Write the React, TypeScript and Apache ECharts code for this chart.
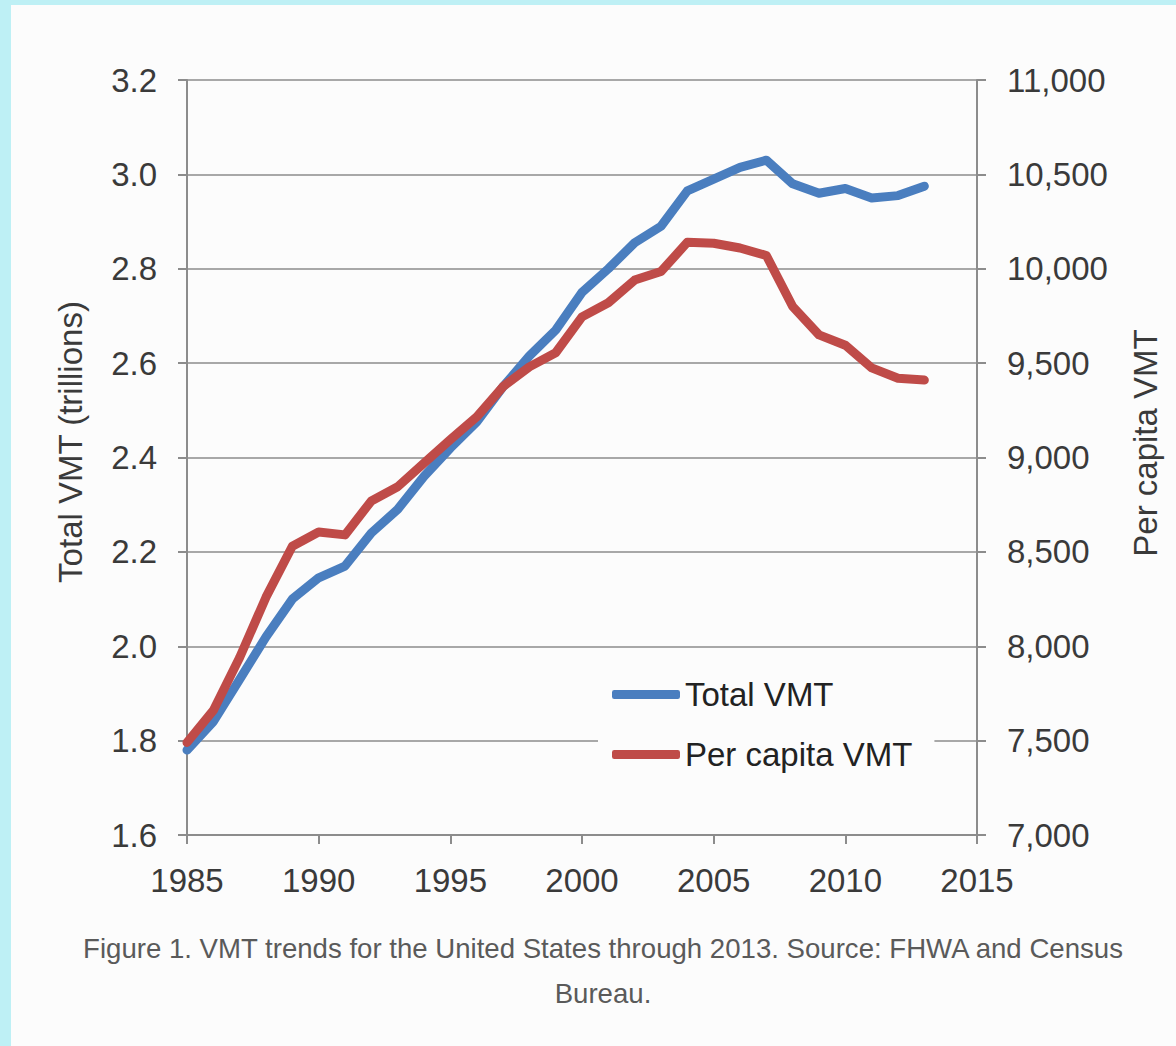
import React, { useEffect, useRef } from "react";
import * as echarts from "echarts";

const years = [
  1985, 1986, 1987, 1988, 1989, 1990, 1991, 1992, 1993, 1994, 1995, 1996, 1997, 1998, 1999,
  2000, 2001, 2002, 2003, 2004, 2005, 2006, 2007, 2008, 2009, 2010, 2011, 2012, 2013,
];
const totalVMT = [
  1.78, 1.84, 1.93, 2.02, 2.1, 2.145, 2.17, 2.24, 2.29, 2.36, 2.42, 2.475, 2.55, 2.615, 2.67,
  2.75, 2.8, 2.855, 2.89, 2.965, 2.99, 3.015, 3.03, 2.98, 2.96, 2.97, 2.95, 2.955, 2.975,
];
const perCapitaVMT = [
  7490, 7660, 7940, 8260, 8530, 8605, 8590, 8770, 8845, 8970, 9095, 9215, 9375, 9480, 9555,
  9745, 9820, 9940, 9985, 10140, 10135, 10110, 10070, 9800, 9650, 9595, 9475, 9420, 9410,
];
const seriesNames = ["Total VMT", "Per capita VMT"];
const leftTitle = "Total VMT (trillions)";
const rightTitle = "Per capita VMT";
const captionLine1 =
  "Figure 1. VMT trends for the United States through 2013. Source: FHWA and Census";
const captionLine2 = "Bureau.";

const FONT = "'Liberation Sans', Arial, Helvetica, sans-serif";

export default function App() {
  const ref = useRef<HTMLDivElement>(null);
  useEffect(() => {
    if (!ref.current) return;
    const chart = echarts.init(ref.current, undefined, { renderer: "svg" });
    const axisLine = { show: true, lineStyle: { color: "#8C8C8C", width: 2 } };
    const axisTick = { show: true, length: 9, inside: false, lineStyle: { color: "#8C8C8C", width: 2 } };
    const labelStyle = { fontFamily: FONT, fontSize: 33, color: "#3A3A3A" };
    chart.setOption({
      animation: false,
      backgroundColor: "transparent",
      textStyle: { fontFamily: FONT },
      grid: { left: 187, right: 199, top: 80, bottom: 211, containLabel: false },
      xAxis: {
        type: "value",
        min: 1985,
        max: 2015,
        interval: 5,
        axisLine,
        axisTick,
        splitLine: { show: false },
        axisLabel: { ...labelStyle, margin: 29, formatter: (v: number) => String(v) },
      },
      yAxis: [
        {
          type: "value",
          min: 1.6,
          max: 3.2,
          interval: 0.2,
          position: "left",
          axisLine,
          axisTick,
          splitLine: { show: true, lineStyle: { color: "#A8A8A8", width: 2 } },
          axisLabel: { ...labelStyle, margin: 30, formatter: (v: number) => v.toFixed(1) },
        },
        {
          type: "value",
          min: 7000,
          max: 11000,
          interval: 500,
          position: "right",
          axisLine,
          axisTick,
          splitLine: { show: false },
          axisLabel: {
            ...labelStyle,
            margin: 30,
            formatter: (v: number) => v.toLocaleString("en-US"),
          },
        },
      ],
      legend: {
        orient: "vertical",
        left: 598,
        top: 663,
        padding: [15, 22, 15, 14],
        backgroundColor: "#FCFCFC",
        itemWidth: 68,
        itemHeight: 9,
        itemGap: 27,
        icon: "roundRect",
        textStyle: { fontFamily: FONT, fontSize: 33, color: "#222", lineHeight: 33 },
        data: seriesNames,
      },
      series: [
        {
          name: seriesNames[0],
          type: "line",
          yAxisIndex: 0,
          showSymbol: false,
          symbol: "none",
          data: years.map((y, i) => [y, totalVMT[i]]),
          lineStyle: { color: "#4A7EBF", width: 9, cap: "round", join: "round" },
          itemStyle: { color: "#4A7EBF" },
          z: 2,
        },
        {
          name: seriesNames[1],
          type: "line",
          yAxisIndex: 1,
          showSymbol: false,
          symbol: "none",
          data: years.map((y, i) => [y, perCapitaVMT[i]]),
          lineStyle: { color: "#BF4B48", width: 9, cap: "round", join: "round" },
          itemStyle: { color: "#BF4B48" },
          z: 3,
        },
      ],
      graphic: [
        {
          type: "text",
          x: 70,
          y: 442,
          rotation: Math.PI / 2,
          style: {
            text: leftTitle,
            fontFamily: FONT,
            fontSize: 33,
            fill: "#3A3A3A",
            align: "center",
            verticalAlign: "middle",
          },
        },
        {
          type: "text",
          x: 1145,
          y: 443,
          rotation: Math.PI / 2,
          style: {
            text: rightTitle,
            fontFamily: FONT,
            fontSize: 33,
            fill: "#3A3A3A",
            align: "center",
            verticalAlign: "middle",
          },
        },
        {
          type: "text",
          x: 603,
          y: 948,
          style: {
            text: captionLine1,
            fontFamily: FONT,
            fontSize: 27.6,
            fill: "#5A5A5A",
            align: "center",
            verticalAlign: "middle",
          },
        },
        {
          type: "text",
          x: 603,
          y: 993,
          style: {
            text: captionLine2,
            fontFamily: FONT,
            fontSize: 27.6,
            fill: "#5A5A5A",
            align: "center",
            verticalAlign: "middle",
          },
        },
      ],
    });
    return () => chart.dispose();
  }, []);

  return (
    <div
      style={{
        position: "absolute",
        left: 0,
        top: 0,
        width: 1176,
        height: 1046,
        background: "#BEF0F5",
        overflow: "hidden",
      }}
    >
      <div
        style={{
          position: "absolute",
          left: 11,
          top: 5,
          right: 0,
          bottom: 0,
          background: "#FCFCFC",
        }}
      />
      <div ref={ref} style={{ position: "absolute", left: 0, top: 0, width: 1176, height: 1046 }} />
    </div>
  );
}
